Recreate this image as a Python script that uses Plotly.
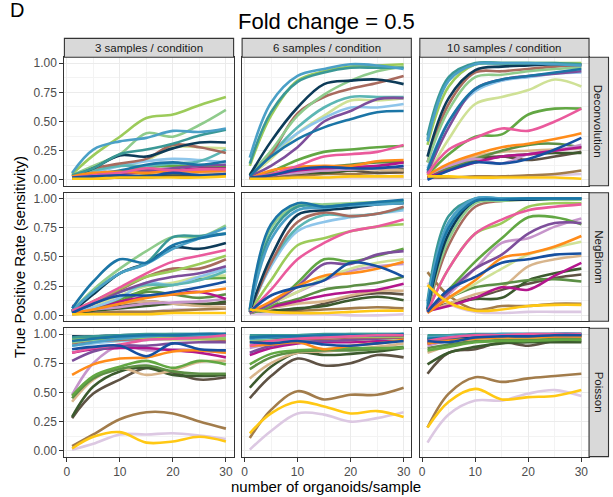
import plotly.graph_objects as go

W, H = 613, 497

# x positions where each smoothed curve is sampled
X = [1, 5, 10, 15, 20, 25, 30]

COL_LABELS = ["3 samples / condition", "6 samples / condition", "10 samples / condition"]
ROW_LABELS = ["Deconvolution", "NegBinom", "Poisson"]

SERIES = ["light_green", "pale_green", "steel_blue", "teal", "navy", "brown_red", "sky",
          "blue2", "purple", "yellowgreen", "pink", "orange", "green", "darkgreen",
          "magenta", "royal", "tan", "darkbrown", "brown", "gold", "lavender",
          "midgreen", "lilac", "aqua"]
COLORS = ["#9CCB5A", "#8FCB8C", "#4BA0C7", "#3A9896", "#0D3B58", "#A86A5E", "#8EC5EA",
          "#1B75A6", "#7D4E9B", "#CFE196", "#EA5A9C", "#FF8C1A", "#62A743", "#3C5A2E",
          "#B3168C", "#1650A0", "#D8B58C", "#5E5244", "#A27C4B", "#FFC814", "#DCC8E2",
          "#5C8F45", "#C695CB", "#5CB6B4"]

# drawing order (later = on top)
DRAW_ORDER = [20, 18, 17, 13, 16, 21, 22, 14, 12, 9, 6, 23, 8, 5, 1, 0, 4, 3, 2, 7, 11, 10, 15, 19]

DECONV_3 = [
    [0.05, 0.21, 0.37, 0.53, 0.56, 0.64, 0.71],
    [0.04, 0.12, 0.22, 0.40, 0.37, 0.47, 0.60],
    [0.06, 0.26, 0.33, 0.36, 0.42, 0.41, 0.44],
    [0.04, 0.10, 0.22, 0.26, 0.31, 0.38, 0.43],
    [0.03, 0.10, 0.21, 0.20, 0.27, 0.32, 0.32],
    [0.04, 0.10, 0.14, 0.18, 0.30, 0.28, 0.23],
    [0.02, 0.06, 0.12, 0.16, 0.18, 0.17, 0.15],
    [0.02, 0.05, 0.08, 0.13, 0.15, 0.13, 0.16],
    [0.02, 0.04, 0.06, 0.08, 0.10, 0.12, 0.13],
    [0.03, 0.08, 0.12, 0.17, 0.28, 0.28, 0.27],
    [0.02, 0.04, 0.06, 0.10, 0.08, 0.09, 0.09],
    [0.03, 0.06, 0.07, 0.06, 0.08, 0.07, 0.08],
    [0.02, 0.04, 0.07, 0.11, 0.12, 0.12, 0.12],
    [0.01, 0.02, 0.03, 0.04, 0.05, 0.05, 0.06],
    [0.01, 0.03, 0.05, 0.07, 0.08, 0.10, 0.11],
    [0.02, 0.03, 0.04, 0.03, 0.06, 0.04, 0.05],
    [0.02, 0.03, 0.05, 0.06, 0.06, 0.06, 0.07],
    [0.01, 0.02, 0.02, 0.03, 0.04, 0.04, 0.04],
    [0.01, 0.01, 0.02, 0.02, 0.03, 0.03, 0.04],
    [0.01, 0.01, 0.02, 0.02, 0.02, 0.02, 0.03],
    [0.01, 0.02, 0.03, 0.03, 0.04, 0.04, 0.05],
    [0.02, 0.04, 0.06, 0.08, 0.07, 0.08, 0.10],
    [0.02, 0.04, 0.05, 0.07, 0.08, 0.07, 0.08],
    [0.03, 0.08, 0.12, 0.12, 0.14, 0.16, 0.26],
]

DECONV_6 = [
    [0.12, 0.55, 0.85, 0.93, 0.97, 0.98, 0.99],
    [0.05, 0.25, 0.55, 0.73, 0.85, 0.93, 0.97],
    [0.19, 0.66, 0.89, 0.95, 0.99, 0.98, 0.95],
    [0.14, 0.58, 0.84, 0.92, 0.96, 0.96, 0.96],
    [0.04, 0.33, 0.62, 0.82, 0.85, 0.86, 0.82],
    [0.03, 0.22, 0.57, 0.71, 0.78, 0.83, 0.89],
    [0.03, 0.22, 0.40, 0.53, 0.62, 0.62, 0.65],
    [0.03, 0.20, 0.35, 0.45, 0.52, 0.58, 0.59],
    [0.03, 0.12, 0.28, 0.50, 0.59, 0.69, 0.70],
    [0.03, 0.18, 0.40, 0.55, 0.68, 0.68, 0.70],
    [0.02, 0.05, 0.12, 0.20, 0.22, 0.24, 0.30],
    [0.01, 0.08, 0.11, 0.12, 0.12, 0.16, 0.17],
    [0.01, 0.07, 0.17, 0.24, 0.26, 0.28, 0.29],
    [0.01, 0.04, 0.06, 0.06, 0.08, 0.10, 0.09],
    [0.01, 0.04, 0.08, 0.10, 0.11, 0.12, 0.15],
    [0.02, 0.04, 0.09, 0.11, 0.10, 0.10, 0.12],
    [0.02, 0.05, 0.07, 0.08, 0.09, 0.09, 0.08],
    [0.02, 0.04, 0.05, 0.07, 0.08, 0.06, 0.07],
    [0.01, 0.02, 0.03, 0.05, 0.05, 0.06, 0.06],
    [0.01, 0.01, 0.02, 0.02, 0.03, 0.03, 0.03],
    [0.01, 0.01, 0.02, 0.02, 0.02, 0.02, 0.02],
    [0.01, 0.05, 0.10, 0.11, 0.13, 0.15, 0.15],
    [0.02, 0.04, 0.06, 0.08, 0.09, 0.10, 0.11],
    [0.04, 0.22, 0.45, 0.62, 0.71, 0.71, 0.71],
]

DECONV_10 = [
    [0.30, 0.80, 0.99, 1.00, 1.00, 1.00, 1.00],
    [0.15, 0.60, 0.88, 0.90, 0.93, 0.95, 0.96],
    [0.33, 0.85, 0.99, 1.00, 1.00, 0.99, 0.98],
    [0.38, 0.88, 1.00, 1.00, 1.00, 1.00, 0.99],
    [0.20, 0.70, 0.94, 0.97, 0.98, 0.99, 0.99],
    [0.15, 0.65, 0.92, 0.93, 0.95, 0.97, 0.98],
    [0.10, 0.50, 0.76, 0.85, 0.88, 0.91, 0.92],
    [0.08, 0.50, 0.78, 0.86, 0.89, 0.92, 0.95],
    [0.06, 0.45, 0.78, 0.86, 0.89, 0.91, 0.93],
    [0.04, 0.35, 0.65, 0.71, 0.77, 0.86, 0.80],
    [0.05, 0.26, 0.36, 0.44, 0.42, 0.50, 0.61],
    [0.04, 0.14, 0.22, 0.28, 0.31, 0.35, 0.40],
    [0.04, 0.22, 0.37, 0.39, 0.56, 0.61, 0.61],
    [0.02, 0.10, 0.16, 0.20, 0.22, 0.23, 0.23],
    [0.02, 0.08, 0.15, 0.20, 0.22, 0.25, 0.28],
    [0.00, 0.08, 0.15, 0.14, 0.18, 0.26, 0.36],
    [0.05, 0.12, 0.20, 0.24, 0.25, 0.26, 0.27],
    [0.02, 0.10, 0.18, 0.20, 0.17, 0.20, 0.24],
    [0.02, 0.02, 0.03, 0.03, 0.04, 0.05, 0.08],
    [0.03, 0.03, 0.02, 0.02, 0.02, 0.02, 0.01],
    [0.01, 0.02, 0.02, 0.03, 0.03, 0.04, 0.05],
    [0.02, 0.10, 0.18, 0.25, 0.30, 0.31, 0.28],
    [0.04, 0.12, 0.18, 0.14, 0.22, 0.25, 0.30],
    [0.35, 0.86, 0.99, 0.99, 0.99, 0.99, 0.98],
]

NEGBIN_3 = [
    [0.03, 0.12, 0.23, 0.33, 0.38, 0.44, 0.51],
    [0.04, 0.22, 0.40, 0.55, 0.67, 0.67, 0.77],
    [0.04, 0.20, 0.36, 0.44, 0.57, 0.66, 0.75],
    [0.04, 0.20, 0.36, 0.45, 0.67, 0.68, 0.70],
    [0.03, 0.18, 0.36, 0.45, 0.58, 0.57, 0.62],
    [0.03, 0.12, 0.22, 0.33, 0.40, 0.40, 0.48],
    [0.03, 0.07, 0.15, 0.28, 0.26, 0.33, 0.40],
    [0.06, 0.29, 0.48, 0.45, 0.60, 0.66, 0.70],
    [0.03, 0.10, 0.20, 0.28, 0.33, 0.36, 0.42],
    [0.03, 0.08, 0.17, 0.25, 0.28, 0.33, 0.34],
    [0.04, 0.12, 0.24, 0.36, 0.46, 0.51, 0.56],
    [0.02, 0.05, 0.10, 0.15, 0.18, 0.20, 0.23],
    [0.02, 0.08, 0.14, 0.22, 0.26, 0.31, 0.32],
    [0.02, 0.04, 0.06, 0.08, 0.10, 0.09, 0.12],
    [0.08, 0.08, 0.12, 0.16, 0.18, 0.20, 0.14],
    [0.02, 0.10, 0.17, 0.17, 0.20, 0.24, 0.29],
    [0.02, 0.06, 0.10, 0.12, 0.10, 0.08, 0.07],
    [0.02, 0.05, 0.08, 0.12, 0.10, 0.10, 0.10],
    [0.01, 0.02, 0.03, 0.03, 0.04, 0.05, 0.06],
    [0.01, 0.01, 0.01, 0.01, 0.02, 0.02, 0.02],
    [0.01, 0.02, 0.03, 0.03, 0.05, 0.05, 0.06],
    [0.02, 0.06, 0.12, 0.20, 0.18, 0.15, 0.18],
    [0.03, 0.05, 0.07, 0.10, 0.11, 0.12, 0.14],
    [0.03, 0.10, 0.20, 0.26, 0.26, 0.30, 0.38],
]

NEGBIN_6 = [
    [0.03, 0.30, 0.60, 0.66, 0.72, 0.76, 0.78],
    [0.05, 0.75, 0.94, 0.95, 0.96, 0.97, 0.98],
    [0.04, 0.65, 0.90, 0.92, 0.94, 0.95, 0.96],
    [0.04, 0.70, 0.93, 0.93, 0.95, 0.96, 0.97],
    [0.03, 0.50, 0.86, 0.90, 0.92, 0.95, 0.96],
    [0.03, 0.45, 0.80, 0.88, 0.85, 0.87, 0.93],
    [0.03, 0.42, 0.72, 0.80, 0.84, 0.87, 0.90],
    [0.05, 0.78, 0.96, 0.93, 0.95, 0.97, 0.99],
    [0.02, 0.10, 0.25, 0.44, 0.44, 0.52, 0.55],
    [0.02, 0.10, 0.20, 0.32, 0.40, 0.45, 0.48],
    [0.03, 0.22, 0.48, 0.62, 0.72, 0.76, 0.82],
    [0.03, 0.12, 0.25, 0.34, 0.36, 0.40, 0.46],
    [0.02, 0.08, 0.28, 0.48, 0.46, 0.51, 0.57],
    [0.03, 0.04, 0.06, 0.08, 0.13, 0.16, 0.13],
    [0.02, 0.07, 0.12, 0.17, 0.20, 0.22, 0.27],
    [0.03, 0.17, 0.24, 0.30, 0.45, 0.42, 0.33],
    [0.02, 0.06, 0.10, 0.12, 0.17, 0.21, 0.21],
    [0.04, 0.04, 0.05, 0.10, 0.16, 0.19, 0.18],
    [0.05, 0.04, 0.04, 0.05, 0.06, 0.07, 0.06],
    [0.05, 0.03, 0.02, 0.02, 0.03, 0.04, 0.04],
    [0.01, 0.01, 0.01, 0.01, 0.00, 0.00, 0.01],
    [0.02, 0.08, 0.14, 0.22, 0.25, 0.28, 0.33],
    [0.02, 0.10, 0.20, 0.30, 0.38, 0.42, 0.44],
    [0.03, 0.45, 0.75, 0.86, 0.85, 0.87, 0.92],
]

NEGBIN_10 = [
    [0.04, 0.40, 0.70, 0.79, 0.93, 0.96, 0.96],
    [0.05, 0.65, 0.96, 0.98, 0.99, 0.99, 0.99],
    [0.10, 0.80, 1.00, 1.00, 1.00, 1.00, 1.00],
    [0.12, 0.85, 1.00, 1.00, 1.00, 1.00, 1.00],
    [0.05, 0.70, 0.98, 0.99, 0.99, 1.00, 1.00],
    [0.04, 0.60, 0.93, 0.98, 0.99, 0.99, 1.00],
    [0.05, 0.72, 0.97, 0.99, 0.99, 0.99, 0.99],
    [0.06, 0.75, 0.98, 0.99, 1.00, 1.00, 1.00],
    [0.03, 0.20, 0.40, 0.52, 0.70, 0.79, 0.79],
    [0.03, 0.15, 0.27, 0.40, 0.52, 0.58, 0.63],
    [0.03, 0.40, 0.70, 0.82, 0.90, 0.93, 0.95],
    [0.02, 0.15, 0.30, 0.49, 0.53, 0.59, 0.68],
    [0.03, 0.22, 0.46, 0.66, 0.84, 0.84, 0.78],
    [0.04, 0.10, 0.14, 0.15, 0.30, 0.36, 0.40],
    [0.04, 0.08, 0.15, 0.24, 0.22, 0.34, 0.45],
    [0.03, 0.22, 0.33, 0.45, 0.48, 0.52, 0.53],
    [0.03, 0.10, 0.18, 0.24, 0.42, 0.48, 0.51],
    [0.06, 0.10, 0.15, 0.22, 0.27, 0.32, 0.35],
    [0.37, 0.17, 0.05, 0.08, 0.08, 0.10, 0.10],
    [0.26, 0.11, 0.04, 0.05, 0.08, 0.09, 0.09],
    [0.28, 0.10, 0.03, 0.02, 0.03, 0.03, 0.03],
    [0.05, 0.15, 0.24, 0.27, 0.30, 0.31, 0.29],
    [0.02, 0.18, 0.40, 0.62, 0.66, 0.76, 0.83],
    [0.08, 0.78, 0.99, 1.00, 1.00, 1.00, 1.00],
]

POISSON_3 = [
    [0.96, 0.96, 0.97, 0.97, 0.97, 0.96, 0.96],
    [0.93, 0.95, 0.96, 0.97, 0.97, 0.97, 0.97],
    [0.90, 0.93, 0.96, 0.98, 0.99, 0.99, 0.99],
    [0.97, 0.98, 0.99, 1.00, 1.00, 1.00, 1.00],
    [0.98, 0.98, 0.99, 0.99, 0.99, 0.99, 1.00],
    [0.92, 0.94, 0.95, 0.96, 0.97, 0.96, 0.95],
    [0.90, 0.92, 0.94, 0.95, 0.96, 0.96, 0.97],
    [0.94, 0.96, 0.98, 0.99, 0.99, 1.00, 1.00],
    [0.77, 0.85, 0.90, 0.90, 0.92, 0.93, 0.93],
    [0.94, 0.93, 0.94, 0.95, 0.95, 0.95, 0.93],
    [0.84, 0.88, 0.91, 0.95, 0.96, 0.97, 0.99],
    [0.65, 0.74, 0.79, 0.80, 0.85, 0.86, 0.84],
    [0.47, 0.64, 0.72, 0.77, 0.71, 0.77, 0.74],
    [0.29, 0.55, 0.68, 0.71, 0.65, 0.64, 0.65],
    [0.84, 0.87, 0.88, 0.88, 0.86, 0.84, 0.80],
    [0.87, 0.89, 0.90, 0.81, 0.92, 0.87, 0.86],
    [0.42, 0.61, 0.71, 0.65, 0.69, 0.76, 0.77],
    [0.28, 0.49, 0.61, 0.71, 0.67, 0.61, 0.63],
    [0.04, 0.14, 0.27, 0.33, 0.32, 0.25, 0.19],
    [0.02, 0.12, 0.16, 0.07, 0.08, 0.12, 0.08],
    [0.01, 0.06, 0.14, 0.14, 0.15, 0.13, 0.10],
    [0.45, 0.62, 0.70, 0.73, 0.68, 0.66, 0.66],
    [0.48, 0.75, 0.90, 0.86, 0.87, 0.86, 0.84],
    [0.95, 0.97, 0.98, 0.99, 1.00, 1.00, 1.00],
]

POISSON_6 = [
    [0.96, 0.97, 0.97, 0.98, 0.98, 0.98, 0.98],
    [0.95, 0.96, 0.97, 0.97, 0.98, 0.98, 0.98],
    [0.96, 0.97, 0.98, 0.99, 0.99, 0.99, 1.00],
    [0.99, 0.99, 0.99, 1.00, 1.00, 1.00, 1.00],
    [0.97, 0.97, 0.98, 0.98, 0.99, 0.99, 0.99],
    [0.93, 0.95, 0.96, 0.96, 0.97, 0.97, 0.97],
    [0.95, 0.96, 0.97, 0.97, 0.98, 0.98, 0.99],
    [0.97, 0.98, 0.98, 0.99, 0.99, 0.99, 1.00],
    [0.84, 0.90, 0.93, 0.94, 0.95, 0.96, 0.97],
    [0.93, 0.94, 0.95, 0.95, 0.95, 0.96, 0.96],
    [0.90, 0.94, 0.96, 0.97, 0.98, 0.99, 0.99],
    [0.90, 0.91, 0.93, 0.87, 0.90, 0.92, 0.95],
    [0.74, 0.83, 0.86, 0.87, 0.88, 0.88, 0.88],
    [0.54, 0.72, 0.84, 0.82, 0.83, 0.85, 0.88],
    [0.82, 0.88, 0.92, 0.93, 0.93, 0.94, 0.96],
    [0.93, 0.92, 0.94, 0.91, 0.90, 0.92, 0.94],
    [0.62, 0.75, 0.84, 0.85, 0.87, 0.89, 0.92],
    [0.45, 0.64, 0.79, 0.73, 0.75, 0.82, 0.80],
    [0.11, 0.35, 0.51, 0.44, 0.48, 0.48, 0.54],
    [0.15, 0.32, 0.42, 0.38, 0.32, 0.34, 0.29],
    [0.01, 0.17, 0.32, 0.31, 0.25, 0.28, 0.33],
    [0.70, 0.80, 0.85, 0.86, 0.86, 0.87, 0.89],
    [0.88, 0.92, 0.94, 0.95, 0.96, 0.97, 0.98],
    [0.98, 0.98, 0.99, 0.99, 1.00, 1.00, 1.00],
]

POISSON_10 = [
    [0.97, 0.98, 0.99, 0.99, 0.99, 0.99, 1.00],
    [0.96, 0.97, 0.98, 0.98, 0.99, 0.99, 0.99],
    [0.97, 0.98, 0.99, 1.00, 1.00, 1.00, 1.00],
    [0.99, 0.99, 1.00, 1.00, 1.00, 1.00, 1.00],
    [0.96, 0.97, 0.98, 0.99, 0.99, 0.99, 0.99],
    [0.94, 0.96, 0.97, 0.98, 0.98, 0.98, 0.98],
    [0.95, 0.97, 0.98, 0.98, 0.99, 0.99, 0.99],
    [0.96, 0.97, 0.99, 0.99, 0.99, 1.00, 1.00],
    [0.92, 0.95, 0.97, 0.98, 0.98, 0.98, 0.99],
    [0.93, 0.95, 0.96, 0.97, 0.97, 0.98, 0.98],
    [0.94, 0.97, 0.99, 0.99, 1.00, 1.00, 1.00],
    [0.92, 0.94, 0.96, 0.97, 0.97, 0.98, 0.98],
    [0.86, 0.89, 0.93, 0.94, 0.94, 0.95, 0.95],
    [0.74, 0.84, 0.89, 0.92, 0.93, 0.93, 0.93],
    [0.92, 0.95, 0.97, 0.98, 0.98, 0.99, 0.99],
    [0.94, 0.93, 0.97, 0.98, 0.98, 0.99, 0.99],
    [0.84, 0.90, 0.94, 0.96, 0.96, 0.97, 0.98],
    [0.66, 0.84, 0.87, 0.93, 0.90, 0.94, 0.94],
    [0.20, 0.49, 0.63, 0.59, 0.62, 0.64, 0.66],
    [0.20, 0.42, 0.53, 0.44, 0.46, 0.47, 0.52],
    [0.07, 0.31, 0.43, 0.43, 0.49, 0.52, 0.47],
    [0.88, 0.91, 0.94, 0.95, 0.96, 0.96, 0.96],
    [0.90, 0.94, 0.96, 0.97, 0.98, 0.98, 0.98],
    [0.98, 0.99, 0.99, 1.00, 1.00, 1.00, 1.00],
]

PANELS = [[DECONV_3, DECONV_6, DECONV_10],
          [NEGBIN_3, NEGBIN_6, NEGBIN_10],
          [POISSON_3, POISSON_6, POISSON_10]]

# ---------------- layout geometry (pixels) ----------------
COLS = [(63.5, 233.0), (241.5, 411.0), (419.5, 589.0)]
ROWS = [(56.5, 185.5), (192.5, 321.5), (328.5, 457.5)]
STRIP_TOP = 37.5
STRIP_RIGHT = 608.5
FONT = "Liberation Sans, Arial, Helvetica, sans-serif"


def px(xp):
    return xp / W


def py(yp):
    return 1 - yp / H


fig = go.Figure()
layout = dict(width=W, height=H, margin=dict(l=0, r=0, t=0, b=0),
              paper_bgcolor="white", plot_bgcolor="white", showlegend=False,
              font=dict(family=FONT))
shapes = []
annotations = []

for r in range(3):
    for c in range(3):
        k = r * 3 + c + 1
        sfx = "" if k == 1 else str(k)
        data = PANELS[r][c]
        for i in DRAW_ORDER:
            fig.add_trace(go.Scatter(
                x=X, y=data[i], mode="lines", name=SERIES[i],
                line=dict(color=COLORS[i], width=2.6, shape="spline", smoothing=1.0),
                xaxis="x" + sfx, yaxis="y" + sfx, hoverinfo="skip", showlegend=False))
        x0, x1 = COLS[c]
        y0, y1 = ROWS[r]
        layout["xaxis" + sfx] = dict(
            domain=[px(x0), px(x1)], range=[-0.45, 31.45], anchor="y" + sfx,
            tick0=0, dtick=10, showgrid=True, gridcolor="#EBEBEB", gridwidth=1.1,
            minor=dict(tick0=0, dtick=5, showgrid=True, gridcolor="#F3F3F3", gridwidth=0.6),
            zeroline=False, showline=True, mirror=True, linecolor="#333333", linewidth=1.1,
            ticks="outside" if r == 2 else "", ticklen=4, tickcolor="#333333", tickwidth=1,
            showticklabels=(r == 2), tickfont=dict(size=12, color="#4D4D4D"))
        layout["yaxis" + sfx] = dict(
            domain=[py(y1), py(y0)], range=[-0.05, 1.05], anchor="x" + sfx,
            tick0=0, dtick=0.25, tickformat=".2f", showgrid=True, gridcolor="#EBEBEB",
            gridwidth=1.1,
            minor=dict(tick0=0, dtick=0.125, showgrid=True, gridcolor="#F3F3F3", gridwidth=0.6),
            zeroline=False, showline=True, mirror=True, linecolor="#333333", linewidth=1.1,
            ticks="outside" if c == 0 else "", ticklen=4, tickcolor="#333333", tickwidth=1,
            showticklabels=(c == 0), tickfont=dict(size=12, color="#4D4D4D"))

# top strips
for c in range(3):
    x0, x1 = COLS[c]
    shapes.append(dict(type="rect", xref="paper", yref="paper",
                       x0=px(x0), x1=px(x1), y0=py(ROWS[0][0]), y1=py(STRIP_TOP),
                       fillcolor="#D9D9D9", line=dict(color="#333333", width=1.1), layer="above"))
    annotations.append(dict(x=px((x0 + x1) / 2), y=py((STRIP_TOP + ROWS[0][0]) / 2),
                            xref="paper", yref="paper", text=COL_LABELS[c], showarrow=False,
                            xanchor="center", yanchor="middle",
                            font=dict(size=11.5, color="#1A1A1A", family=FONT)))
# right strips
for r in range(3):
    y0, y1 = ROWS[r]
    shapes.append(dict(type="rect", xref="paper", yref="paper",
                       x0=px(COLS[2][1]), x1=px(STRIP_RIGHT), y0=py(y1), y1=py(y0),
                       fillcolor="#D9D9D9", line=dict(color="#333333", width=1.1), layer="above"))
    annotations.append(dict(x=px((COLS[2][1] + STRIP_RIGHT) / 2), y=py((y0 + y1) / 2),
                            xref="paper", yref="paper", text=ROW_LABELS[r], showarrow=False,
                            textangle=90, xanchor="center", yanchor="middle",
                            font=dict(size=11.5, color="#1A1A1A", family=FONT)))

# titles
annotations.append(dict(x=px(326), y=py(21), xref="paper", yref="paper",
                        text="Fold change = 0.5", showarrow=False, xanchor="center",
                        yanchor="middle", font=dict(size=22, color="black", family=FONT)))
annotations.append(dict(x=px(16.5), y=py(9.5), xref="paper", yref="paper",
                        text="D", showarrow=False, xanchor="center",
                        yanchor="middle", font=dict(size=20, color="black", family=FONT)))
annotations.append(dict(x=px(19), y=py(257), xref="paper", yref="paper",
                        text="True Positive Rate (sensitivity)", showarrow=False,
                        textangle=-90, xanchor="center", yanchor="middle",
                        font=dict(size=15, color="black", family=FONT)))
annotations.append(dict(x=px(326), y=py(487), xref="paper", yref="paper",
                        text="number of organoids/sample", showarrow=False,
                        xanchor="center", yanchor="middle",
                        font=dict(size=15, color="black", family=FONT)))

layout["shapes"] = shapes
layout["annotations"] = annotations
fig.update_layout(**layout)
fig.write_html("out.html")
